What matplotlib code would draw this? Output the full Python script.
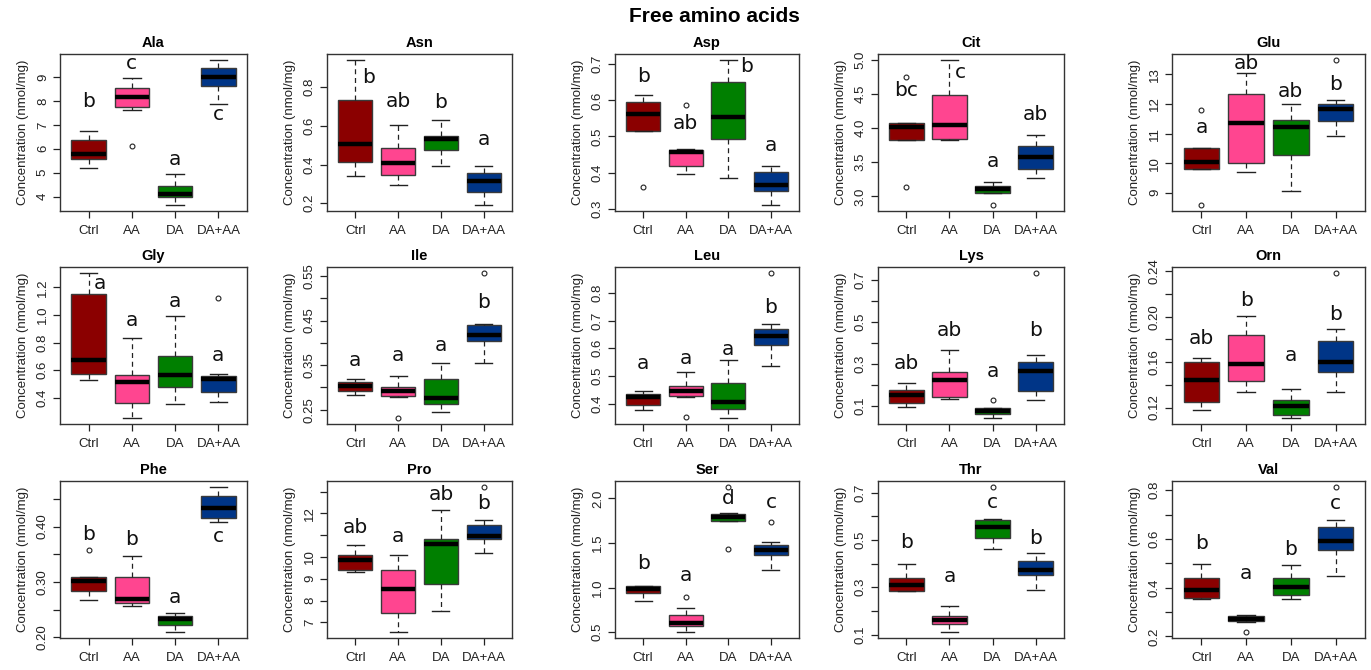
import matplotlib
matplotlib.use("Agg")
import matplotlib.pyplot as plt
import numpy as np

plt.rcParams["font.family"] = ["Liberation Sans", "DejaVu Sans"]

groups = ["Ctrl", "AA", "DA", "DA+AA"]
colors = ["#8b0000", "#ff4590", "#007f00", "#003587"]

acids = ["Ala", "Asn", "Asp", "Cit", "Glu",
         "Gly", "Ile", "Leu", "Lys", "Orn",
         "Phe", "Pro", "Ser", "Thr", "Val"]

# box statistics per acid, one value per group (Ctrl, AA, DA, DA+AA)
whis_lo = [[5.21, 7.60, 3.65, 7.88], [0.342, 0.292, 0.393, 0.190], [0.514, 0.396, 0.385, 0.310],
           [3.82, 3.82, 3.05, 3.27], [9.79, 9.70, 9.07, 10.92],
           [0.531, 0.253, 0.359, 0.373], [0.284, 0.278, 0.244, 0.355], [0.375, 0.422, 0.347, 0.536],
           [0.095, 0.134, 0.041, 0.129], [0.1174, 0.134, 0.1106, 0.1338],
           [0.267, 0.256, 0.209, 0.408], [9.31, 6.55, 7.50, 10.18], [0.85, 0.50, 1.75, 1.20],
           [0.283, 0.110, 0.460, 0.288], [0.353, 0.259, 0.353, 0.448]]
q1 = [[5.57, 7.76, 4.01, 8.63], [0.412, 0.347, 0.476, 0.257], [0.514, 0.418, 0.493, 0.350],
      [3.82, 3.84, 3.05, 3.40], [9.79, 10.00, 10.27, 11.42],
      [0.571, 0.361, 0.480, 0.446], [0.292, 0.280, 0.263, 0.403], [0.394, 0.428, 0.379, 0.613],
      [0.113, 0.143, 0.063, 0.170], [0.1250, 0.1433, 0.1135, 0.1514],
      [0.284, 0.261, 0.222, 0.416], [9.42, 7.42, 8.76, 10.84], [0.94, 0.57, 1.75, 1.37],
      [0.283, 0.144, 0.510, 0.350], [0.357, 0.263, 0.370, 0.555]]
median = [[5.78, 8.14, 4.11, 8.99], [0.508, 0.410, 0.530, 0.313], [0.563, 0.457, 0.555, 0.366],
          [4.01, 4.05, 3.11, 3.57], [10.04, 11.35, 11.22, 11.84],
          [0.673, 0.516, 0.564, 0.535], [0.304, 0.292, 0.277, 0.417], [0.423, 0.447, 0.404, 0.645],
          [0.151, 0.221, 0.075, 0.268], [0.1445, 0.1580, 0.1210, 0.1600],
          [0.301, 0.269, 0.232, 0.434], [9.85, 8.52, 10.58, 10.96], [0.98, 0.60, 1.79, 1.42],
          [0.311, 0.161, 0.555, 0.372], [0.392, 0.272, 0.401, 0.592]]
q3 = [[6.36, 8.53, 4.47, 9.38], [0.733, 0.485, 0.545, 0.355], [0.595, 0.463, 0.650, 0.403],
      [4.08, 4.48, 3.15, 3.73], [10.51, 12.33, 11.45, 12.01],
      [1.156, 0.566, 0.707, 0.561], [0.312, 0.300, 0.319, 0.440], [0.435, 0.465, 0.474, 0.669],
      [0.175, 0.262, 0.089, 0.308], [0.1598, 0.1836, 0.1265, 0.1789],
      [0.308, 0.308, 0.239, 0.456], [10.10, 9.42, 10.81, 11.48], [1.02, 0.69, 1.82, 1.48],
      [0.341, 0.179, 0.583, 0.411], [0.438, 0.283, 0.438, 0.650]]
whis_hi = [[6.74, 8.97, 4.93, 9.71], [0.941, 0.602, 0.630, 0.395], [0.615, 0.466, 0.712, 0.418],
           [4.08, 5.00, 3.21, 3.90], [10.51, 13.03, 12.01, 12.13],
           [1.306, 0.834, 0.990, 0.576], [0.319, 0.325, 0.354, 0.442], [0.447, 0.514, 0.556, 0.686],
           [0.211, 0.366, 0.090, 0.344], [0.1633, 0.2003, 0.1360, 0.1889],
           [0.308, 0.346, 0.243, 0.472], [10.53, 10.10, 12.17, 11.68], [1.02, 0.77, 1.84, 1.51],
           [0.400, 0.220, 0.590, 0.445], [0.498, 0.288, 0.494, 0.676]]
outliers = [[[], [6.12], [], []], [[], [], [], []], [[0.36], [0.587], [], []],
            [[4.75, 3.14], [], [2.87], []], [[11.79, 8.58], [], [], [13.49]],
            [[], [], [], [1.127]], [[], [0.231], [], [0.557]], [[], [0.353], [], [0.873]],
            [[], [], [0.127], [0.735]], [[], [], [], [0.2388]],
            [[0.357], [], [], []], [[], [], [], [13.22]], [[], [0.90], [2.13, 1.43], [1.74]],
            [[], [], [0.725], []], [[], [0.217], [], [0.814]]]

letters = [["b", "c", "a", "c"], ["b", "ab", "b", "a"], ["b", "ab", "b", "a"],
           ["bc", "c", "a", "ab"], ["a", "ab", "ab", "b"],
           ["a", "a", "a", "a"], ["a", "a", "a", "b"], ["a", "a", "a", "b"],
           ["ab", "ab", "a", "b"], ["ab", "b", "a", "b"],
           ["b", "b", "a", "c"], ["ab", "a", "ab", "b"], ["b", "a", "d", "c"],
           ["b", "a", "c", "b"], ["b", "a", "b", "c"]]
letter_y = [[7.96, 9.55, 5.54, 7.43], [0.85, 0.727, 0.72, 0.53], [0.666, 0.535, 0.694, 0.474],
            [4.55, 4.81, 3.51, 4.20], [11.21, 13.37, 12.42, 12.64],
            [1.23, 0.963, 1.10, 0.71], [0.361, 0.372, 0.395, 0.49], [0.546, 0.564, 0.596, 0.749],
            [0.30, 0.46, 0.265, 0.46], [0.181, 0.214, 0.166, 0.202],
            [0.386, 0.377, 0.272, 0.382], [11.36, 10.95, 12.89, 12.46], [1.27, 1.13, 2.0, 1.95],
            [0.49, 0.346, 0.66, 0.505], [0.58, 0.46, 0.555, 0.745]]
letter_dx = [[0, 0, 0, 0], [0.31, 0, 0, 0], [0, 0, 0.43, 0], [0, 0.25, 0, 0], [0, 0, 0, 0],
             [0.27, 0, 0, 0], [0, 0, 0, 0], [0, 0, 0, 0], [0, 0, 0, 0], [0, 0, 0, 0],
             [0, 0, 0, 0], [0, 0, 0, 0], [0, 0, 0, 0], [0, 0, 0, 0], [0, 0, 0, 0]]

yticks = [[4, 5, 6, 7, 8, 9], [0.2, 0.4, 0.6, 0.8], [0.3, 0.4, 0.5, 0.6, 0.7],
          [3.0, 3.5, 4.0, 4.5, 5.0], [9, 10, 11, 12, 13],
          [0.4, 0.6, 0.8, 1.0, 1.2], [0.25, 0.30, 0.35, 0.40, 0.45, 0.50, 0.55],
          [0.4, 0.5, 0.6, 0.7, 0.8], [0.1, 0.2, 0.3, 0.4, 0.5, 0.6, 0.7],
          [0.12, 0.14, 0.16, 0.18, 0.20, 0.22, 0.24],
          [0.20, 0.25, 0.30, 0.35, 0.40, 0.45], [7, 8, 9, 10, 11, 12, 13],
          [0.5, 1.0, 1.5, 2.0], [0.1, 0.2, 0.3, 0.4, 0.5, 0.6, 0.7], [0.2, 0.3, 0.4, 0.5, 0.6, 0.7, 0.8]]
ylabels = [["4", "5", "6", "7", "8", "9"], ["0.2", "0.4", "0.6", "0.8"],
           ["0.3", "0.4", "0.5", "0.6", "0.7"], ["3.0", "3.5", "4.0", "4.5", "5.0"],
           ["9", "10", "11", "12", "13"],
           ["0.4", "0.6", "0.8", "1.0", "1.2"], ["0.25", "", "0.35", "", "0.45", "", "0.55"],
           ["0.4", "0.5", "0.6", "0.7", "0.8"], ["0.1", "", "0.3", "", "0.5", "", "0.7"],
           ["0.12", "", "0.16", "", "0.20", "", "0.24"],
           ["0.20", "", "0.30", "", "0.40", ""], ["7", "8", "9", "10", "", "12", ""],
           ["0.5", "1.0", "1.5", "2.0"], ["0.1", "", "0.3", "", "0.5", "", "0.7"],
           ["0.2", "", "0.4", "", "0.6", "", "0.8"]]


def draw_panel(ax, i):
    """draws one boxplot panel"""
    stats = []
    for g in range(4):
        stats.append({"whislo": whis_lo[i][g], "q1": q1[i][g], "med": median[i][g],
                      "q3": q3[i][g], "whishi": whis_hi[i][g], "fliers": outliers[i][g]})
    pos = np.arange(1, 5)
    bp = ax.bxp(stats, positions=pos, widths=0.8, patch_artist=True,
                boxprops=dict(edgecolor="#3a3a3a", linewidth=1.0),
                whiskerprops=dict(color="#222222", linewidth=0.9, linestyle=(0, (4, 3))),
                capprops=dict(color="#222222", linewidth=1.0),
                medianprops=dict(color="black", linewidth=3.2, solid_capstyle="butt"),
                flierprops=dict(marker="o", markersize=3.5, markerfacecolor="none",
                                markeredgecolor="#222222", markeredgewidth=0.8),
                capwidths=0.4)
    for patch, c in zip(bp["boxes"], colors):
        patch.set_facecolor(c)
    allv = whis_lo[i] + whis_hi[i] + [v for o in outliers[i] for v in o]
    lo, hi = min(allv), max(allv)
    pad = (hi - lo) * 0.04
    ax.set_ylim(lo - pad, hi + pad)
    ax.set_xlim(0.34, 4.66)
    ax.set_xticks(pos)
    ax.set_xticklabels(groups, fontsize=9.5, color="#222222")
    ax.set_yticks(yticks[i])
    ax.set_yticklabels(ylabels[i], rotation=90, va="center", fontsize=9.5, color="#222222")
    ax.tick_params(axis="both", length=5, width=0.9, color="#222222", pad=3)
    ax.tick_params(axis="x", pad=5)
    for s in ax.spines.values():
        s.set_color("#333333")
        s.set_linewidth(1.0)
    ax.set_title(acids[i], fontsize=10.5, fontweight="bold", pad=5)
    ax.set_ylabel("Concentration (nmol/mg)", fontsize=9.5, color="#222222", labelpad=6)
    for g in range(4):
        ax.text(g + 1 + letter_dx[i][g], letter_y[i][g], letters[i][g], ha="center",
                va="center", fontsize=14.5, family="DejaVu Sans", color="#111111")


def main():
    """main function"""
    W, H = 1371, 670
    fig = plt.figure(figsize=(W / 100, H / 100), dpi=100)
    lefts = [60, 327, 615, 878, 1172]
    widths = [187, 185, 184, 186, 193]
    tops = [54, 267, 481]
    h = 157
    for i in range(15):
        r, c = divmod(i, 5)
        ax = fig.add_axes([lefts[c] / W, 1 - (tops[r] + h) / H, widths[c] / W, h / H])
        draw_panel(ax, i)
    fig.text(714 / W, 1 - 17 / H, "Free amino acids", ha="center", va="center",
             fontsize=15, fontweight="bold")
    fig.savefig("out.png", dpi=100)


if __name__ == "__main__":
    main()
